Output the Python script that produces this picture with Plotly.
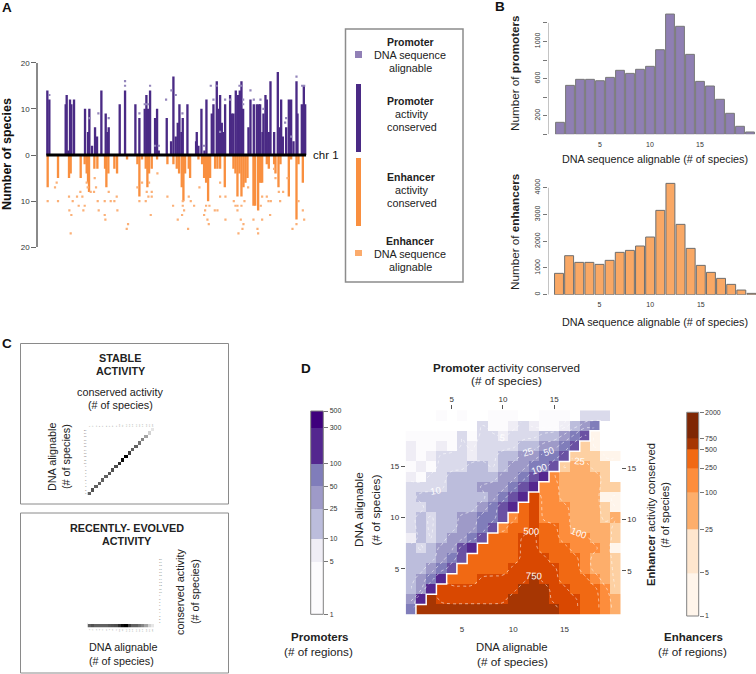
import numpy as np
import plotly.graph_objects as go

W, H = 756, 674
FONT = "Liberation Sans"
DARK = "#222222"
AXG = "#8a8a8a"

# Panel A
prom_pos = [142,148,197,200,205,210,214,222,255,264,268,276,285,291,304,317,322,326,359,375,406,418,434,439,444,450,465,471,476,500,513,520,527,533,538,544,548,562,588,590,595,604,613,619,635,640,650,655,660,665,669,675,690,695,700,707,714,719,724,729,745,751,761,770,776,780,787,790,796,800,806,811,822,833,840,843,848,858,866,873,880,889,892,905,911,916]
prom_cons = [14,12,11,13,1,12,11,12,10,5,10,2,6,4,14,9,5,6,11,14,11,8,10,13,10,14,8,10,1,8,3,17,4,7,11,5,8,11,3,5,2,10,1,12,9,11,16,10,13,7,5,11,13,9,9,14,13,14,16,10,6,12,11,11,11,11,5,9,13,12,5,16,5,18,6,12,4,6,12,12,3,16,9,11,15,11]
enh_pos = [143,174,207,212,242,254,260,264,267,283,292,315,319,325,343,351,381,412,418,426,437,442,447,455,471,502,520,530,537,545,550,555,566,570,595,606,612,618,624,630,645,652,660,674,700,706,712,718,724,730,736,742,760,765,774,778,782,786,800,806,822,826,835,841,866,873,889,895,908]
enh_cons = [7,5,5,4,5,2,4,6,8,3,3,3,7,4,3,4,1,2,9,1,3,7,4,3,1,2,2,3,4,7,10,4,3,5,1,2,5,6,10,5,3,3,3,7,3,4,9,4,9,7,6,5,11,11,12,6,6,6,2,3,2,4,7,2,9,1,14,2,6]
prom_dot_pos = [148,375,375,295,268,326,418,434,439,444,450,465,476,498,514,527,547,612,632,640,650,675,690,660,718,723,729,729,751,761,781,790,855,858,873,889,906,912]
prom_dot_val = [13,16,15,9,8,8,9,11,11,11,15,2,2,12,14,13,9,2,15,12,15,12,12,5,15,15,12,11,14,12,12,10,7,8,4,17,15,15]
enh_dot_pos = [143,165,170,174,207,208,214,218,212,231,236,241,247,250,254,260,263,272,282,284,288,293,296,314,314,316,326,332,343,350,352,380,384,412,418,426,437,440,445,447,452,455,455,472,502,519,533,546,548,552,548,564,566,572,582,598,612,615,618,622,626,628,644,652,660,660,676,676,701,706,712,712,715,722,727,730,724,733,744,760,772,774,786,786,782,800,805,812,810,822,826,836,840,849,862,877,889,895,908,912]
enh_dot_val = [10,7,6,10,9,12,13,10,17,9,11,8,9,12,11,6,7,8,8,5,7,10,12,10,13,14,8,10,10,9,12,16,15,7,10,6,10,8,9,6,13,8,9,4,9,11,14,13,11,12,10,16,9,10,11,7,13,12,11,14,15,11,12,12,9,6,14,9,10,11,11,12,17,14,16,15,11,10,7,14,16,17,9,14,11,9,10,10,13,3,5,8,10,8,5,16,15,10,12,14]
chr_span = [139, 918]
a_ticks = [-20, -10, 0, 10, 20]

# Panel B
species = list(range(1, 21))
promoters_by_species = [129,527,592,592,577,613,689,656,700,732,911,1295,1163,861,570,520,377,226,86,25]
enhancers_by_species = [798,1458,1209,1209,1134,1284,1583,1657,1820,2156,3153,4162,2630,1732,1097,835,611,386,174,50]

# Panel C
cons_index = list(range(20))
shade = [.62,.68,.62,.62,.62,.62,.66,.68,.7,.82,.95,1.0,.75,.62,.62,.55,.48,.36,.18,.1]

# Panel D: region counts per cell, read per row from the bottom
Z = None
prom_rows = [
 [70],
 [35,350],
 [16,35,350],
 [16,35,70,350],
 [16,16,35,70,170],
 [16,16,16,35,70,170],
 [16,7,16,35,35,170,350],
 [4,16,7,16,35,35,70,170],
 [7,16,7,16,16,35,35,70,170],
 [7,16,7,16,16,35,35,70,70,170],
 [7,7,16,16,16,16,16,35,70,170,350],
 [7,16,16,16,16,16,16,16,35,70,170,350],
 [7,7,7,7,16,16,16,35,35,35,70,170,350],
 [4,2,7,7,16,16,16,16,16,35,35,70,170,350],
 [2,4,2,7,7,7,16,16,7,16,35,35,70,70,170],
 [4,2,4,7,7,7,4,7,7,16,16,35,35,70,70,170],
 [4,2,2,4,2,7,4,7,7,7,7,16,16,35,35,70,170],
 [2,2,2,2,2,7,2,7,7,4,7,7,7,16,16,35,70,170],
 [Z,Z,Z,Z,Z,Z,Z,7,2,2,4,7,4,2,2,4,16,35,70],
 [Z,Z,Z,2,Z,2,Z,Z,2,2,2,Z,Z,2,2,2,Z,7,7,7],
]
enh_rows = [
 [1000]*14+[600,600,350,350,160,50],
 [1000]+[600]*7+[1000]*4+[600,600,600,350,350,160,50],
 [600]*8+[1000]*3+[600,600,350,350,350,160,12],
 [350]*3+[600]*5+[1000]+[600,600,350,350,350,160,50,12],
 [350]*5+[600]*5+[350,350,160,50,50,12],
 [350]*5+[600]*3+[350]*3+[160,50,50,12],
 [350]*4+[600,600,350,350,350,160,160,160,50,3],
 [350]*3+[600,600,350,350,160,160,160,50,50,12],
 [160,350,350,600,350,350,160,50,50,50,50,12],
 [160,350,600,160,160,160,50,50,50,12,50],
 [350,600,160,160,160,50,50,50,12,3],
 [600,160,160,50,50,50,50,3,3],
 [160,160,50,50,50,50,12,12],
 [160,50,50,50,50,12,Z],
 [12,50,50,12,12,Z],
 [12,12,12,3,3],
 [12,3,Z,Z],
 [3,Z,Z],
 [Z,Z],
 [Z],
]
prom_breaks = [1,5,10,25,50,100,300,500]
prom_cols = ["#fcfbfd","#efedf5","#bcbddc","#9e9ac8","#807dba","#54278f","#3f007d"]
prom_map_breaks = [1,3,5,10,25,50,100,300,500]
prom_map_cols = ["#fcfbfd","#efedf5","#dadaeb","#bcbddc","#9e9ac8","#807dba","#6a51a3","#54278f"]
enh_breaks = [1,5,25,100,250,500,750,2000]
enh_map_cols = ["#fff5eb","#fdd0a2","#fdae6b","#fd8d3c","#f16913","#d94801","#a63603"]
enh_bar_cols = ["#fff5eb","#fee6ce","#fdae6b","#fd8d3c","#f16913","#a63603","#7f2704"]
prom_levels = [5,10,25,50,100,300]
enh_levels = [5,25,100,250,500,750]

def dom_x(a, b): return [a/W, b/W]
def dom_y(top, bot): return [1-bot/H, 1-top/H]

def step_scale(cols):
    n = len(cols); s = []
    for i, c in enumerate(cols):
        s += [[i/n, c], [(i+1)/n, c]]
    return s

def full_matrix(rows, ncols, offset):
    m = np.full((len(rows), ncols), np.nan)
    for r, row in enumerate(rows):
        for i, v in enumerate(row):
            if v is not None:
                m[r, i + (r+1 if offset else 0)] = v
    return m

def soften(m):
    # neighbourhood mean in log space, only where the matrix has a value
    out = np.full(m.shape, np.nan)
    lg = np.log(m)
    for r in range(m.shape[0]):
        for c in range(m.shape[1]):
            if np.isnan(m[r, c]):
                continue
            block = lg[max(r-1, 0):r+2, max(c-1, 0):c+2]
            out[r, c] = np.exp(0.5*lg[r, c] + 0.5*np.nanmean(block))
    return out

fig = go.Figure()
layout = dict(template="none", width=W, height=H, margin=dict(l=0, r=0, t=0, b=0), autosize=False,
              paper_bgcolor="white", plot_bgcolor="white", barmode="overlay", showlegend=False,
              font=dict(family=FONT, color=DARK))
anns, shapes = [], []

def text(x, y, t, size=10.8, angle=0, color=DARK, anchor="center"):
    anns.append(dict(x=x/W, y=1-y/H, xref="paper", yref="paper", text=t, showarrow=False,
                     font=dict(size=size, color=color, family=FONT), textangle=angle,
                     xanchor=anchor, yanchor="middle"))

def rect(x0, y0, x1, y1, line=None, fill=None, lw=1.5):
    shapes.append(dict(type="rect", xref="paper", yref="paper", x0=x0/W, x1=x1/W, y0=1-y0/H, y1=1-y1/H,
                       line=dict(color=line, width=lw) if line else dict(width=0), fillcolor=fill, layer="below"))

# ---- A
layout["xaxis"] = dict(domain=dom_x(38, 306.5), range=[114, 919], visible=False, fixedrange=True)
layout["yaxis"] = dict(domain=dom_y(62.7, 247.3), range=[-20, 20], tickvals=a_ticks,
                       ticktext=[str(abs(v)) for v in a_ticks], showline=True, linecolor=AXG, linewidth=1.5,
                       ticks="outside", ticklen=5, tickcolor="#666", showgrid=False, zeroline=False,
                       tickfont=dict(size=8, color="#333"), fixedrange=True)
fig.add_trace(go.Bar(x=prom_pos, y=prom_cons, width=7, marker=dict(color="#4a2a85", line=dict(width=0)), xaxis="x", yaxis="y"))
fig.add_trace(go.Bar(x=enh_pos, y=[-v for v in enh_cons], width=7, marker=dict(color="#f98f3f", line=dict(width=0)), xaxis="x", yaxis="y"))
fig.add_trace(go.Scatter(x=prom_dot_pos, y=prom_dot_val, mode="markers", marker=dict(symbol="square", size=2.2, color="#9486bb"), xaxis="x", yaxis="y"))
fig.add_trace(go.Scatter(x=enh_dot_pos, y=[-v for v in enh_dot_val], mode="markers", marker=dict(symbol="square", size=2.2, color="#fbb077"), xaxis="x", yaxis="y"))
fig.add_trace(go.Scatter(x=chr_span, y=[0, 0], mode="lines", line=dict(color="black", width=3), xaxis="x", yaxis="y"))
text(7, 154, "<b>Number of species</b>", 12.5, -90, "#111")
text(311, 154.5, "chr 1", 11.5, 0, "#111", "left")
text(7, 8, "<b>A</b>", 13.5, 0, "#111")

# legend box
rect(345.5, 29, 463, 282, line="#8c8c8c")
rect(355, 51, 362, 58, fill="#9180b6")
rect(356, 84, 361, 152, fill="#4a2a85")
rect(356, 158, 361, 226, fill="#f98f3f")
rect(355, 250, 362, 256, fill="#fbab6c")
text(410, 42, "<b>Promoter</b>", 10.5); text(410, 55, "DNA sequence"); text(410, 68, "alignable")
text(411, 101, "<b>Promoter</b>", 10.5); text(411.5, 114, "activity"); text(411.5, 127, "conserved")
text(411, 177, "<b>Enhancer</b>", 10.5); text(411.5, 190, "activity"); text(411.5, 203, "conserved")
text(410, 241, "<b>Enhancer</b>", 10.5); text(410, 254, "DNA sequence"); text(410, 267, "alignable")

# ---- B
def b_axes(xn, yn, top, bot, rng, xr, vals, labels):
    layout[xn] = dict(domain=dom_x(548, 756), range=xr, anchor=yn.replace("yaxis", "y"), tickvals=[5, 10, 15],
                      ticks="outside", ticklen=3, tickcolor="rgba(0,0,0,0)", showgrid=False, zeroline=False,
                      showline=False, tickfont=dict(size=7, color="#333"), fixedrange=True)
    layout[yn] = dict(domain=dom_y(top, bot), range=rng, anchor=xn.replace("xaxis", "x"), tickvals=vals, ticktext=labels,
                      tickangle=-90, ticks="outside", ticklen=4, tickcolor="#777", showline=False,
                      showgrid=False, zeroline=False, tickfont=dict(size=7, color="#333"), fixedrange=True)
    fig.add_trace(go.Scatter(x=[xr[0], xr[0]], y=[vals[0], vals[-1]], mode="lines", cliponaxis=False,
                             line=dict(color=AXG, width=1), xaxis=xn.replace("xaxis", "x"), yaxis=yn.replace("yaxis", "y"), hoverinfo="skip"))

p_ticks = [0,200,400,600,800,1000,1200]
e_ticks = [0,1000,2000,3000,4000]
b_axes("xaxis2", "yaxis2", 4.3, 134.3, [0, 1400], [-0.2, 20.6], p_ticks, ["","200","","600","","1000",""])
b_axes("xaxis3", "yaxis3", 177, 294.7, [0, 4400], [-0.086, 20.45], e_ticks, [str(v) for v in e_ticks])
fig.add_trace(go.Bar(x=species, y=promoters_by_species, width=0.88,
                     marker=dict(color="#8f7fb3", line=dict(color="#777777", width=1)), xaxis="x2", yaxis="y2"))
fig.add_trace(go.Bar(x=species, y=enhancers_by_species, width=0.88,
                     marker=dict(color="#f9a865", line=dict(color="#6e6e6e", width=1)), xaxis="x3", yaxis="y3"))
text(514, 73, "Number of <b>promoters</b>", 11.7, -90)
text(514, 232, "Number of <b>enhancers</b>", 11.7, -90)
text(655, 159, "DNA sequence alignable (# of species)", 10.8)
text(655, 322, "DNA sequence alignable (# of species)", 10.8)
text(500, 7, "<b>B</b>", 13.5, 0, "#111")

# ---- C
tiny = dict(size=2.5, color="#777777")
def tiny_axis(**kw):
    d = dict(tickvals=cons_index, ticktext=[str(i+1) for i in cons_index], tickfont=tiny, tickangle=-90,
             ticks="", showgrid=False, zeroline=False, showline=False, fixedrange=True,
             range=[-0.5, 19.5])
    d.update(kw)
    return d

rect(20.5, 343.5, 228.5, 504, line="#8a8a8a", lw=1)
rect(20.5, 513, 228.5, 673, line="#8a8a8a", lw=1)
layout["xaxis4"] = tiny_axis(domain=dom_x(87.5, 154), anchor="y4", side="top")
layout["yaxis4"] = tiny_axis(domain=dom_y(428, 495), anchor="x4", tickangle=0)
stable = np.full((20, 20), np.nan)
stable[cons_index, cons_index] = shade
fig.add_trace(go.Heatmap(z=stable, x=cons_index, y=cons_index, zmin=0, zmax=1, showscale=False,
                         colorscale=[[0, "white"], [1, "black"]], xaxis="x4", yaxis="y4", hoverinfo="skip"))
layout["xaxis5"] = tiny_axis(domain=dom_x(87.5, 154), anchor="y5", side="bottom")
layout["yaxis5"] = dict(domain=dom_y(622.5, 627.5), anchor="x5", range=[-0.5, 0.5], visible=False, fixedrange=True)
fig.add_trace(go.Heatmap(z=[shade], x=cons_index, y=[0], zmin=0, zmax=1, showscale=False,
                         colorscale=[[0, "white"], [1, "black"]], xaxis="x5", yaxis="y5", hoverinfo="skip"))
layout["yaxis10"] = tiny_axis(domain=dom_y(557, 624), anchor="free", position=158/W, side="right", tickangle=0)
fig.add_trace(go.Scatter(x=[None], y=[None], mode="markers", xaxis="x5", yaxis="y10", hoverinfo="skip"))

text(120, 358, "<b>STABLE</b>", 10.8); text(121, 371, "<b>ACTIVITY</b>", 10.8)
text(120, 392, "conserved activity", 10.8); text(120, 405, "(# of species)", 10.8)
text(52, 457, "DNA alignable", 10.8, -90); text(66, 457, "(# of species)", 10.8, -90)
text(127, 528, "<b>RECENTLY- EVOLVED</b>", 10.8); text(127, 541, "<b>ACTIVITY</b>", 10.8)
text(180, 592, "conserved activity", 10.8, -90); text(195, 592, "(# of species)", 10.8, -90)
text(123, 647, "DNA alignable", 10.8); text(121, 660.5, "(# of species)", 10.8)
text(7, 343, "<b>C</b>", 13.5, 0, "#111")

# ---- D colourbars
def cbar(xn, yn, x0, x1, top, bot, breaks, cols):
    layout[xn] = dict(domain=dom_x(x0, x1), range=[0, 1], anchor=yn.replace("yaxis", "y"), visible=False, fixedrange=True)
    layout[yn] = dict(domain=dom_y(top, bot), type="log", range=[0, np.log10(breaks[-1])], anchor=xn.replace("xaxis", "x"),
                      side="right", tickvals=breaks, ticktext=[str(b) for b in breaks], ticks="outside", ticklen=4,
                      tickcolor="#777", showgrid=False, zeroline=False, tickfont=dict(size=7, color="#333"), fixedrange=True)
    fig.add_trace(go.Heatmap(z=[[i] for i in range(len(cols))], x=[0, 1], y=breaks, zmin=0, zmax=len(cols),
                             colorscale=step_scale(cols), showscale=False, xaxis=xn.replace("xaxis", "x"),
                             yaxis=yn.replace("yaxis", "y"), hoverinfo="skip"))
    rect(x0, top, x1, bot, line="#808080", lw=1)

cbar("xaxis6", "yaxis6", 310.7, 323.3, 411, 614.3, prom_breaks, prom_cols)
cbar("xaxis7", "yaxis7", 686.7, 698.7, 412.3, 616, enh_breaks, enh_bar_cols)
shapes[-1]["layer"] = "above"; shapes[-2]["layer"] = "above"

# ---- D heatmap
n_col, n_row = 21, 20
col_idx = list(range(n_col)); row_idx = list(range(n_row))
P = full_matrix(prom_rows, n_col, False)
E = full_matrix(enh_rows, n_col, True)

def to_level(m, breaks):
    out = np.digitize(m, breaks) - 0.5
    out = np.where(np.isnan(m), np.nan, out)
    return out

X0, X1, Y0, Y1 = 405.7, 620.7, 410.3, 614.7
tk = dict(ticks="outside", ticklen=4, tickcolor="#555", tickfont=dict(size=8, color="#333"), showgrid=False,
          zeroline=False, showline=False, fixedrange=True)
layout["xaxis8"] = dict(domain=dom_x(X0, X1), range=[-0.5, 20.5], anchor="y8", tickvals=[5, 10, 15], **{**tk, "ticklen": 7, "tickcolor": "rgba(0,0,0,0)"})
layout["yaxis8"] = dict(domain=dom_y(Y0, Y1), range=[-0.5, 19.5], anchor="x8", tickvals=[4, 9, 14], ticktext=["5", "10", "15"], **tk)
layout["xaxis9"] = dict(domain=dom_x(X0, X1), range=[-0.5, 20.5], anchor="y9", overlaying="x8", side="top", tickvals=[4, 9, 14], ticktext=["5", "10", "15"], **tk)
layout["yaxis9"] = dict(domain=dom_y(Y0, Y1), range=[-0.5, 19.5], anchor="x9", overlaying="y8", side="right", tickvals=[3.8, 8.8, 13.8], ticktext=["5", "10", "15"], **tk)

fig.add_trace(go.Heatmap(z=to_level(P, prom_map_breaks), x=col_idx, y=row_idx, zmin=0, zmax=len(prom_map_cols),
                         colorscale=step_scale(prom_map_cols), showscale=False, xaxis="x8", yaxis="y8", hoverinfo="skip"))
fig.add_trace(go.Heatmap(z=to_level(E, enh_breaks), x=col_idx, y=row_idx, zmin=0, zmax=len(enh_map_cols),
                         colorscale=step_scale(enh_map_cols), showscale=False, xaxis="x8", yaxis="y8", hoverinfo="skip"))
def add_contours(m, levels):
    for lv in levels:
        fig.add_trace(go.Contour(z=m, x=col_idx, y=row_idx, autocontour=False,
                                 contours=dict(start=lv, end=lv, size=1, coloring="none", showlabels=True,
                                               labelfont=dict(size=9.5, color="white", family=FONT)),
                                 line=dict(color="rgba(255,255,255,0.7)", width=0.8, dash="dot", smoothing=1.3),
                                 showscale=False, xaxis="x8", yaxis="y8", hoverinfo="skip"))
add_contours(soften(P), prom_levels)
add_contours(soften(E), enh_levels)
stair_x, stair_y = [], []
for r in range(n_row - 1):
    stair_x += [r + 0.5, r + 0.5]
    stair_y += [r - 0.5, r + 0.5]
fig.add_trace(go.Scatter(x=stair_x, y=stair_y, mode="lines", line=dict(color="white", width=1.5), xaxis="x8", yaxis="y8", hoverinfo="skip"))
fig.add_trace(go.Scatter(x=[None], y=[None], mode="markers", xaxis="x9", yaxis="y9", hoverinfo="skip"))

text(506, 367, "<b>Promoter</b> activity conserved", 11.6)
text(506, 381, "(# of species)", 11.8)
text(359, 510, "DNA alignable", 11.8, -90); text(375.5, 510, "(# of species)", 11.8, -90)
text(651, 515, "<b>Enhancer</b> activity conserved", 11.2, -90); text(665, 515, "(# of species)", 11, -90)
text(512, 647, "DNA alignable", 11.3); text(512, 662, "(# of species)", 11.8)
text(320, 637, "<b>Promoters</b>", 11.5); text(318, 651, "(# of regions)", 11.7)
text(693, 637, "<b>Enhancers</b>", 11.5); text(692, 651, "(# of regions)", 11.7)
text(306, 368, "<b>D</b>", 13.5, 0, "#111")

layout["annotations"] = anns
layout["shapes"] = shapes
fig.update_layout(**layout)
fig.write_html("out.html", post_script="document.body.style.margin='0';", config={"displayModeBar": False})
